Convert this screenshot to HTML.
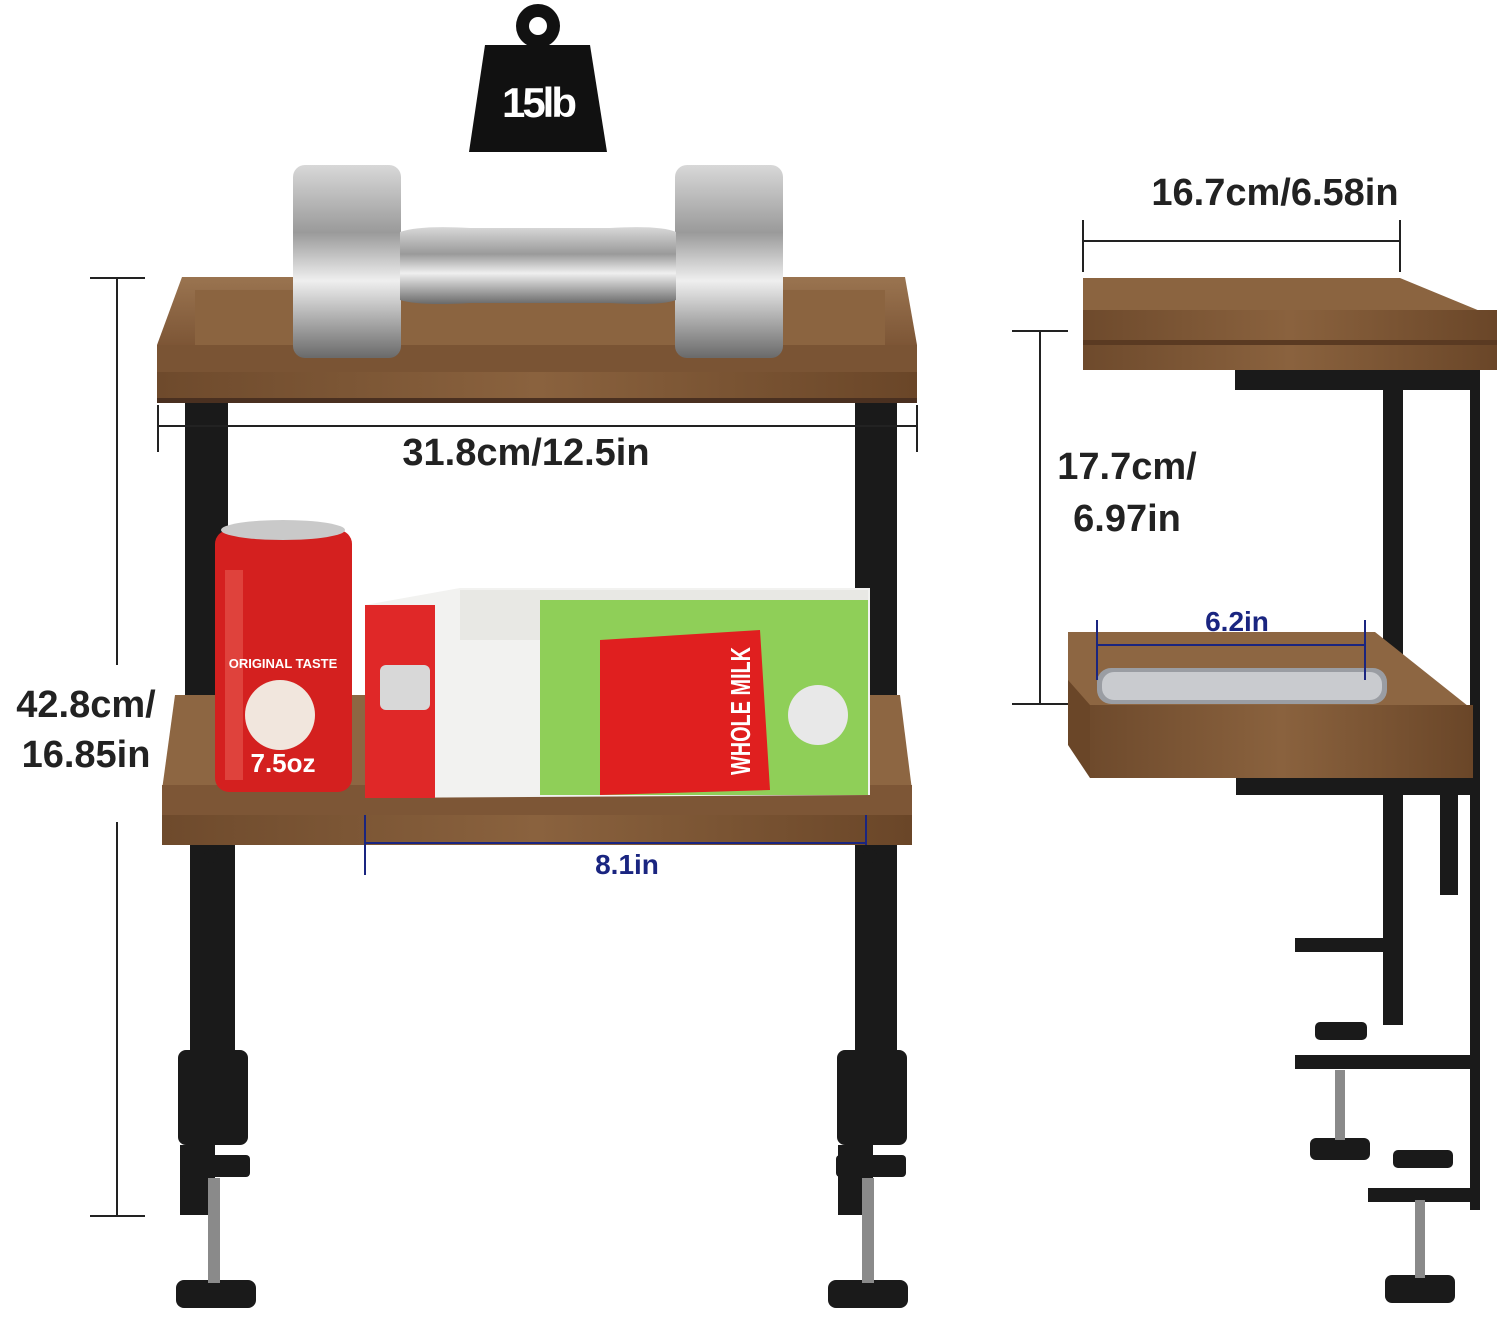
<!DOCTYPE html>
<html><head><meta charset="utf-8"><style>
html,body{margin:0;padding:0;background:#fff;}
svg{display:block}
text{font-family:"Liberation Sans",sans-serif;font-weight:bold;}
</style></head><body>
<svg width="1500" height="1325" viewBox="0 0 1500 1325" xmlns="http://www.w3.org/2000/svg">
<defs>
<linearGradient id="wood" x1="0" y1="0" x2="1" y2="0">
<stop offset="0" stop-color="#6e4a2c"/><stop offset="0.5" stop-color="#8a623e"/><stop offset="1" stop-color="#6a4628"/></linearGradient>
<linearGradient id="woodTop" x1="0" y1="0" x2="0" y2="1">
<stop offset="0" stop-color="#9a7450"/><stop offset="1" stop-color="#7d5636"/></linearGradient>
<linearGradient id="steel" x1="0" y1="0" x2="0" y2="1">
<stop offset="0" stop-color="#d8d8d8"/><stop offset="0.35" stop-color="#9a9a9a"/><stop offset="0.6" stop-color="#efefef"/><stop offset="1" stop-color="#6a6a6a"/></linearGradient>
</defs>

<circle cx="538" cy="26" r="22" fill="#111"/><circle cx="538" cy="26" r="9" fill="#fff"/>
<path d="M485 45 L590 45 L607 152 L469 152 Z" fill="#111"/>
<text x="538" y="117" font-size="42" fill="#fff" text-anchor="middle" letter-spacing="-3">15lb</text>

<rect x="185" y="400" width="43" height="300" fill="#1a1a1a"/>
<rect x="855" y="400" width="42" height="300" fill="#1a1a1a"/>

<polygon points="182,277 905,277 917,345 157,345" fill="url(#woodTop)"/>
<rect x="195" y="290" width="690" height="55" fill="#8b6440"/>
<rect x="157" y="345" width="760" height="30" fill="#7a5434"/>
<rect x="157" y="372" width="760" height="31" fill="url(#wood)"/>
<rect x="157" y="398" width="760" height="5" fill="#4a3020"/>

<rect x="293" y="165" width="108" height="193" rx="12" fill="url(#steel)"/>
<rect x="675" y="165" width="108" height="193" rx="12" fill="url(#steel)"/>
<path d="M400 232 Q420 225 470 228 L610 228 Q660 225 676 232 L676 300 Q660 306 610 303 L470 303 Q420 306 400 300 Z" fill="url(#steel)"/>

<line x1="157" y1="426" x2="918" y2="426" stroke="#222" stroke-width="2"/>
<line x1="158" y1="405" x2="158" y2="452" stroke="#222" stroke-width="2"/>
<line x1="917" y1="405" x2="917" y2="452" stroke="#222" stroke-width="2"/>
<text x="526" y="465" font-size="38" fill="#222" text-anchor="middle">31.8cm/12.5in</text>

<line x1="117" y1="278" x2="117" y2="665" stroke="#222" stroke-width="2"/>
<line x1="117" y1="822" x2="117" y2="1216" stroke="#222" stroke-width="2"/>
<line x1="90" y1="278" x2="145" y2="278" stroke="#222" stroke-width="2"/>
<line x1="90" y1="1216" x2="145" y2="1216" stroke="#222" stroke-width="2"/>
<text x="86" y="717" font-size="38" fill="#222" text-anchor="middle">42.8cm/</text>
<text x="86" y="767" font-size="38" fill="#222" text-anchor="middle">16.85in</text>

<polygon points="175,695 900,695 912,790 162,790" fill="#8d6642"/>
<rect x="162" y="785" width="750" height="35" fill="#7d5636"/>
<rect x="162" y="815" width="750" height="30" fill="url(#wood)"/>

<rect x="215" y="530" width="137" height="262" rx="14" fill="#d4201f"/>
<ellipse cx="283" cy="530" rx="62" ry="10" fill="#c9c9c9"/>
<rect x="225" y="570" width="18" height="210" fill="#e65a50" opacity="0.6"/>
<text x="283" y="668" font-size="13" fill="#fff" text-anchor="middle">ORIGINAL TASTE</text>
<circle cx="280" cy="715" r="35" fill="#f1e6dd"/>
<text x="283" y="772" font-size="26" fill="#fff" text-anchor="middle">7.5oz</text>

<polygon points="365,605 460,588 870,588 870,795 365,798" fill="#f2f2f0"/>
<polygon points="460,590 868,590 868,640 460,640" fill="#e8e8e4"/>
<rect x="365" y="605" width="70" height="193" fill="#e02828"/>
<rect x="380" y="665" width="50" height="45" rx="6" fill="#d8d8d8"/>
<rect x="540" y="600" width="328" height="195" fill="#8fcf58"/>
<path d="M600 640 L760 630 L770 790 L600 795 Z" fill="#e01f1f"/>
<text x="0" y="0" font-size="28" fill="#fff" textLength="128" lengthAdjust="spacingAndGlyphs" transform="translate(750,775) rotate(-90)">WHOLE MILK</text>
<circle cx="818" cy="715" r="30" fill="#e8e8e8"/>

<line x1="365" y1="843" x2="866" y2="843" stroke="#1a2580" stroke-width="2"/>
<line x1="365" y1="815" x2="365" y2="875" stroke="#1a2580" stroke-width="2"/>
<line x1="866" y1="815" x2="866" y2="875" stroke="#1a2580" stroke-width="2"/>
<text x="627" y="874" font-size="28" fill="#1a2580" text-anchor="middle">8.1in</text>

<g fill="#1a1a1a">
<rect x="190" y="845" width="45" height="210" />
<rect x="855" y="845" width="42" height="210"/>
<circle cx="211" cy="856" r="7"/><circle cx="870" cy="856" r="7"/>
<rect x="178" y="1050" width="70" height="95" rx="8"/>
<rect x="837" y="1050" width="70" height="95" rx="8"/>
<rect x="180" y="1145" width="35" height="70"/>
<rect x="838" y="1145" width="35" height="70"/>
<rect x="180" y="1155" width="70" height="22" rx="4"/>
<rect x="836" y="1155" width="70" height="22" rx="4"/>
<rect x="176" y="1280" width="80" height="28" rx="8"/>
<rect x="828" y="1280" width="80" height="28" rx="8"/>
</g>
<rect x="208" y="1178" width="12" height="105" fill="#8a8a8a"/>
<rect x="862" y="1178" width="12" height="105" fill="#8a8a8a"/>

<text x="1275" y="205" font-size="38" fill="#222" text-anchor="middle">16.7cm/6.58in</text>
<line x1="1083" y1="241" x2="1400" y2="241" stroke="#222" stroke-width="2"/>
<line x1="1083" y1="220" x2="1083" y2="272" stroke="#222" stroke-width="2"/>
<line x1="1400" y1="220" x2="1400" y2="272" stroke="#222" stroke-width="2"/>

<g fill="#1a1a1a">
<rect x="1235" y="365" width="245" height="25"/>
<rect x="1383" y="385" width="20" height="640"/>
<rect x="1470" y="370" width="10" height="840"/>
<rect x="1236" y="775" width="240" height="20"/>
<rect x="1440" y="790" width="18" height="105"/>
<rect x="1295" y="938" width="90" height="14"/>
<rect x="1295" y="1055" width="175" height="14"/>
<rect x="1368" y="1188" width="110" height="14"/>
<rect x="1315" y="1022" width="52" height="18" rx="5"/>
<rect x="1310" y="1138" width="60" height="22" rx="6"/>
<rect x="1393" y="1150" width="60" height="18" rx="5"/>
<rect x="1385" y="1275" width="70" height="28" rx="7"/>
</g>
<rect x="1335" y="1070" width="10" height="70" fill="#8a8a8a"/>
<rect x="1415" y="1200" width="10" height="78" fill="#8a8a8a"/>

<polygon points="1083,278 1400,278 1497,318 1497,340 1083,340" fill="#8b6440"/>
<rect x="1083" y="310" width="414" height="60" fill="url(#wood)"/>
<rect x="1083" y="340" width="414" height="5" fill="#5a3a22"/>

<line x1="1040" y1="331" x2="1040" y2="704" stroke="#222" stroke-width="2"/>
<line x1="1012" y1="331" x2="1068" y2="331" stroke="#222" stroke-width="2"/>
<line x1="1012" y1="704" x2="1068" y2="704" stroke="#222" stroke-width="2"/>
<rect x="1045" y="440" width="165" height="100" fill="#fff"/>
<text x="1127" y="479" font-size="38" fill="#222" text-anchor="middle">17.7cm/</text>
<text x="1127" y="531" font-size="38" fill="#222" text-anchor="middle">6.97in</text>

<polygon points="1068,632 1375,632 1473,710 1473,740 1068,740 1068,680" fill="#8d6642"/>
<rect x="1090" y="705" width="383" height="73" fill="url(#wood)"/>
<polygon points="1068,680 1090,705 1090,778 1068,745" fill="#6a4628"/>
<rect x="1097" y="668" width="290" height="36" rx="14" fill="#9a9da3"/>
<rect x="1102" y="672" width="280" height="28" rx="12" fill="#c9cbcf"/>

<line x1="1097" y1="645" x2="1365" y2="645" stroke="#1a2580" stroke-width="2"/>
<line x1="1097" y1="620" x2="1097" y2="680" stroke="#1a2580" stroke-width="2"/>
<line x1="1365" y1="620" x2="1365" y2="680" stroke="#1a2580" stroke-width="2"/>
<text x="1237" y="631" font-size="28" fill="#1a2580" text-anchor="middle">6.2in</text>
</svg>
</body></html>
